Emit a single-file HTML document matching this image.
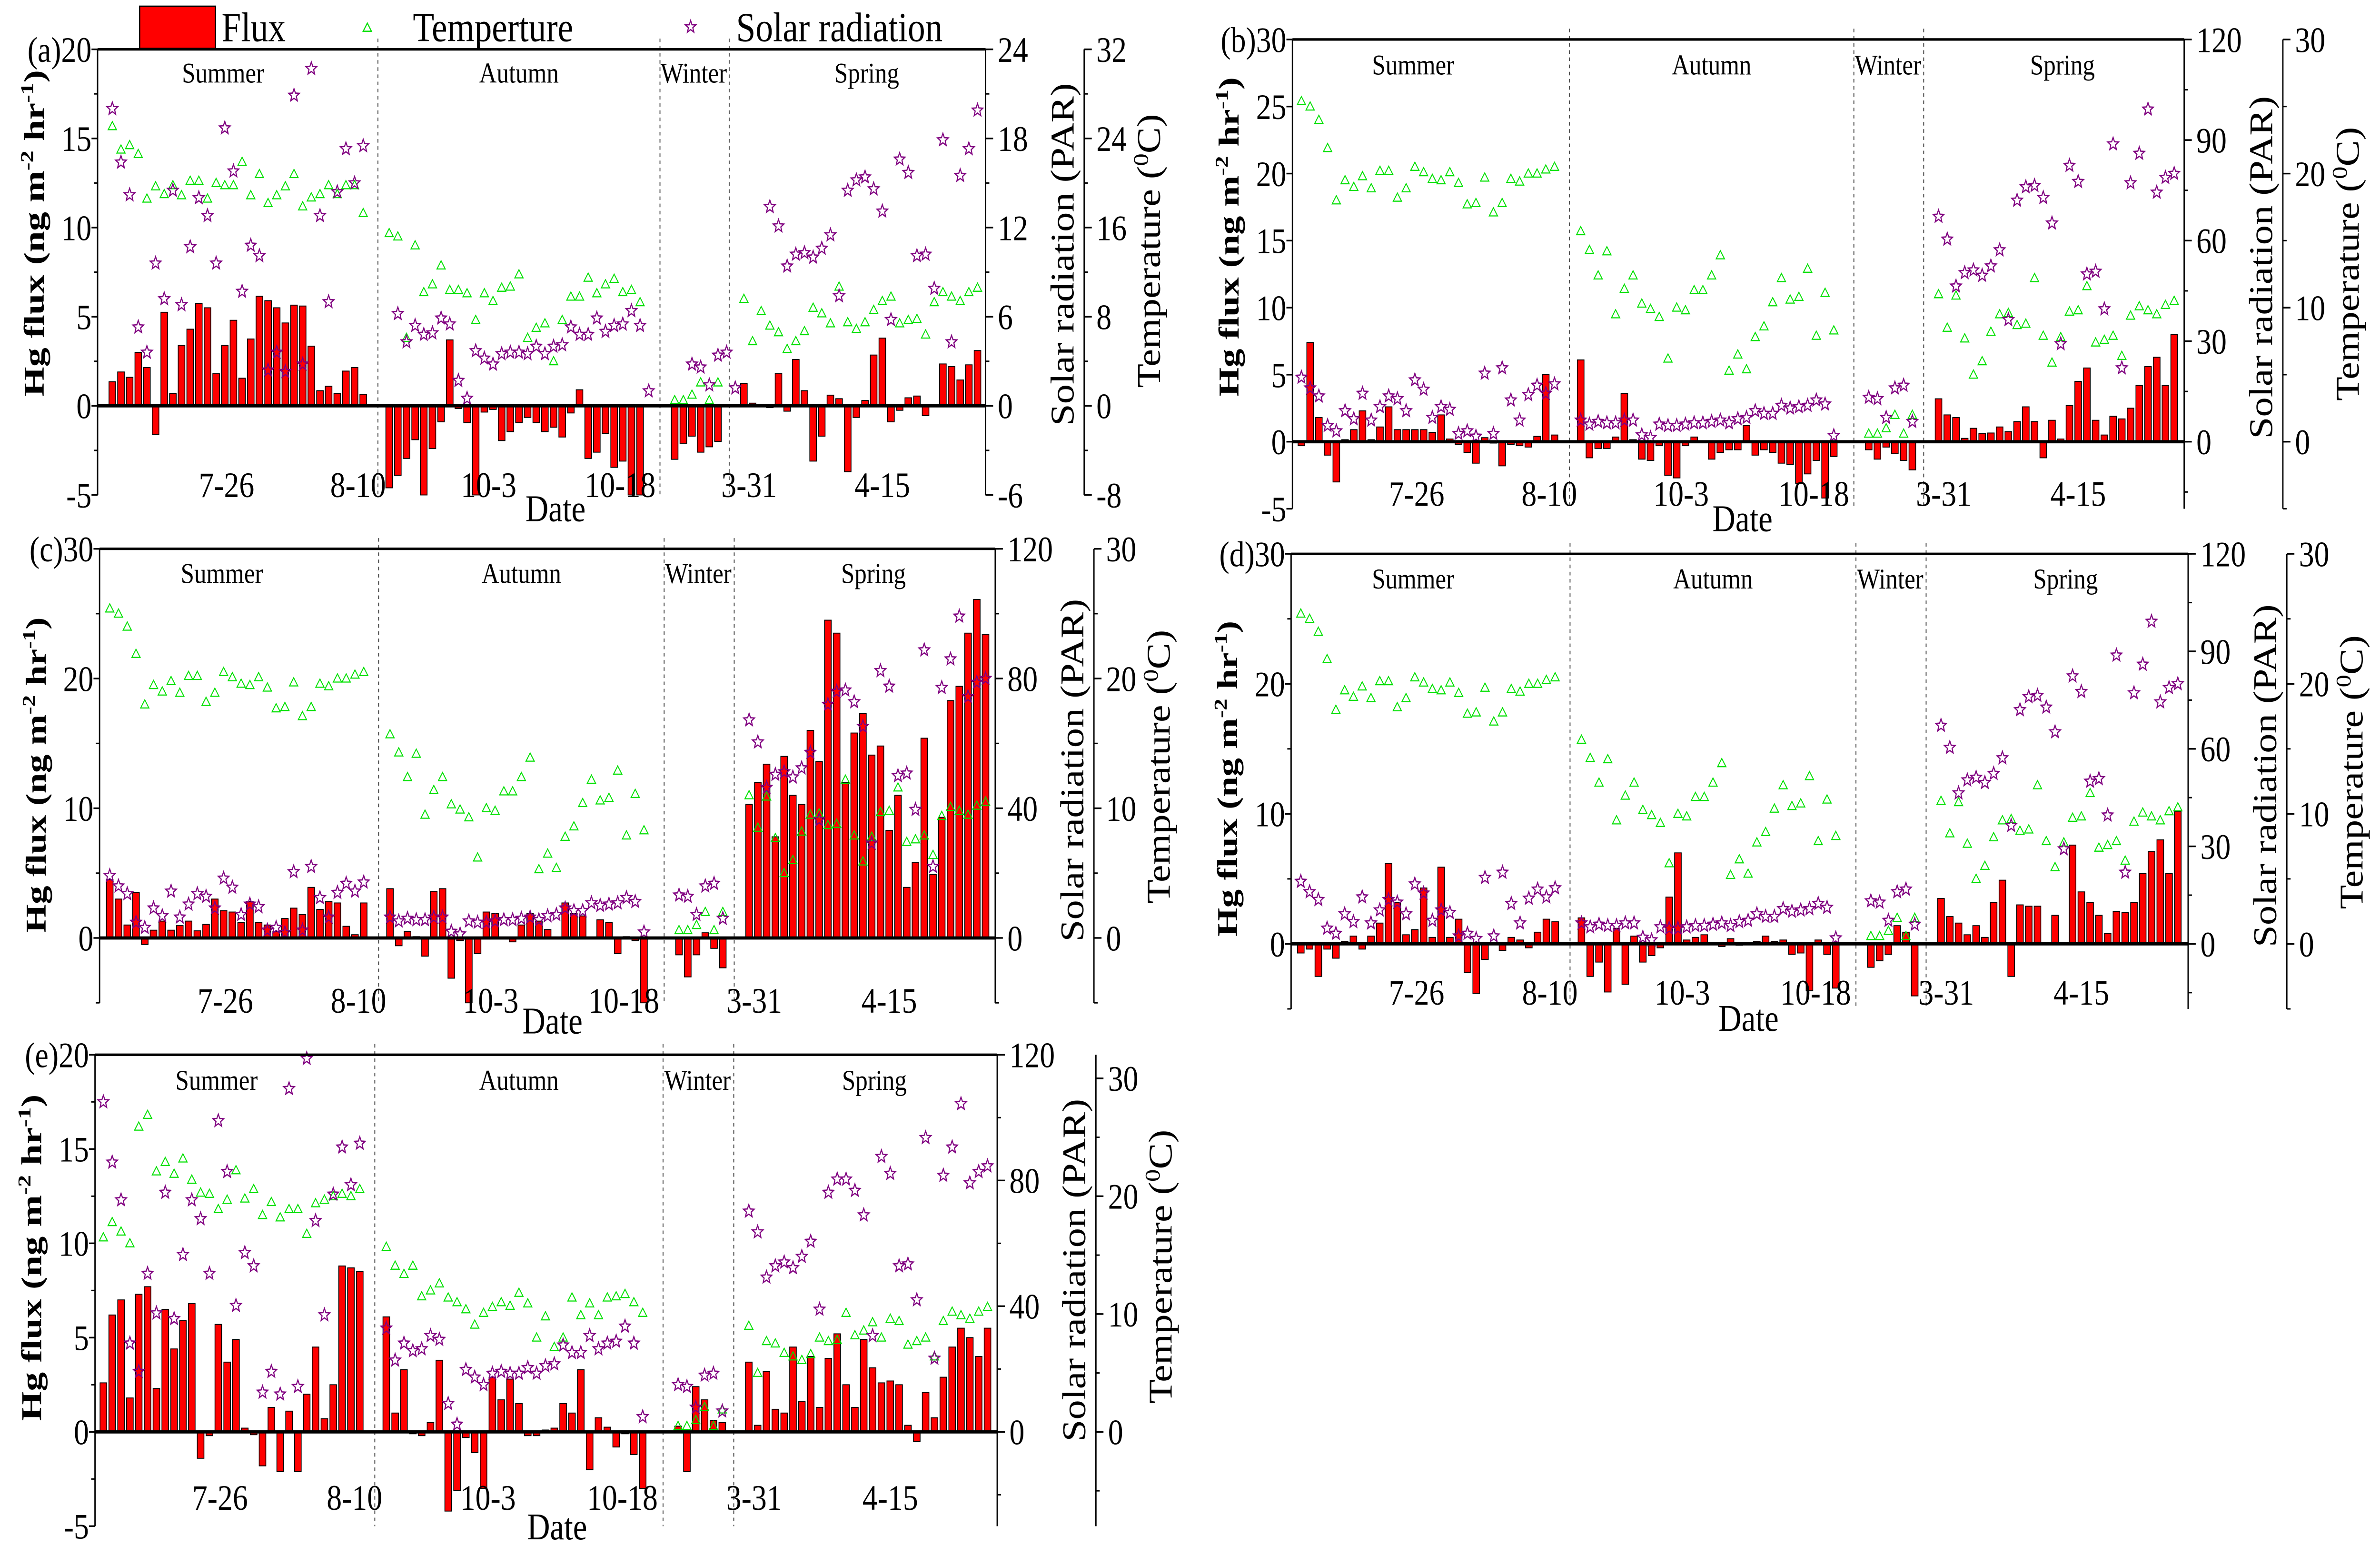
<!DOCTYPE html>
<html><head><meta charset="utf-8">
<style>
html,body{margin:0;padding:0;background:#fff;overflow:hidden;width:100vw;height:100vh;}
svg{display:block;font-family:"Liberation Serif",serif;width:100vw;height:100vh;}
</style></head>
<body>
<svg id="chart" xmlns="http://www.w3.org/2000/svg" viewBox="0 0 1568 861.7" preserveAspectRatio="none"></svg>
<script>
const N = null;
// ---- Panel (a) data (slot index = day slot) ----
const fluxA=[1.35,1.9,1.6,3.0,2.15,-1.6,5.25,0.7,3.4,4.3,5.75,5.5,1.8,3.4,4.8,1.55,3.75,6.15,5.9,5.5,4.65,5.65,5.6,3.35,0.85,1.1,0.7,1.95,2.15,0.65,
N,N,
-4.6,-3.9,-2.95,-1.9,-5.0,-2.4,-0.9,3.7,-0.15,-0.95,-5.0,-0.35,-0.2,-1.95,-1.45,-0.95,-0.65,-0.95,-1.45,-1.2,-1.75,-0.4,0.9,-2.95,-2.6,-1.55,-3.45,-3.1,-5.0,-5.0,
N,N,N,
-3.0,-2.1,-1.7,-2.6,-2.3,-2.0,
N,N,
1.25,0.15,N,-0.1,1.8,-0.3,2.6,0.85,-3.1,-1.7,0.6,0.4,-3.7,-0.65,0.3,2.85,3.8,-0.9,-0.25,0.45,0.55,-0.55,N,2.35,2.2,1.45,2.3,3.1];
const tempA=[25.1,23.0,23.4,22.6,18.6,19.7,19.0,19.8,18.9,20.2,20.2,18.6,20.0,19.8,19.8,21.9,18.9,20.8,18.2,18.9,19.7,20.8,17.9,18.7,19.0,19.8,19.0,19.8,19.8,17.3,
N,N,
15.5,15.2,6.1,14.4,10.2,10.9,12.6,10.4,10.4,10.1,7.7,10.1,9.4,10.6,10.7,11.8,6.1,7.0,7.4,4.0,7.7,9.8,9.8,11.5,10.1,10.9,11.4,10.2,10.4,9.3,
N,N,N,
0.5,0.5,1.0,2.1,0.5,2.1,
N,N,
9.6,5.8,8.5,7.2,6.6,5.1,5.8,6.7,8.8,8.3,7.4,10.7,7.5,6.9,7.5,8.6,9.4,9.8,7.4,7.7,7.8,6.4,9.3,10.2,9.8,9.4,10.2,10.6];
const parA=[20.0,16.4,14.2,5.3,3.6,9.6,7.2,14.5,6.8,10.7,14.0,12.8,9.6,18.7,15.8,7.7,10.8,10.1,2.4,3.6,2.3,20.9,2.8,22.7,12.8,7.0,14.4,17.3,15.0,17.5,
N,N,N,
6.2,4.3,5.4,4.8,4.9,5.9,5.5,1.7,0.5,3.7,3.2,2.8,3.5,3.6,3.6,3.5,4.0,3.5,4.0,4.1,5.3,4.8,4.8,5.9,5.0,5.4,5.5,6.4,5.4,1.0,
N,N,N,N,
2.8,2.6,1.4,3.4,3.6,1.2,
N,N,N,
13.4,12.1,9.4,10.2,10.3,10.0,10.6,11.5,7.4,14.5,15.2,15.4,14.6,13.1,5.8,16.6,15.7,10.1,10.2,7.9,17.9,4.3,15.5,17.3,19.9];

// ---- Panels (b),(c),(d) shared meteorology ----
const tempBCD=[25.4,25.0,24.0,21.9,18.0,19.5,19.0,19.8,18.9,20.2,20.2,18.2,18.9,20.5,20.1,19.6,19.5,20.1,19.3,17.7,17.8,19.7,17.1,17.8,19.6,19.4,20.0,20.0,20.3,20.5,
N,N,
15.7,14.3,12.4,14.2,9.5,11.4,12.4,10.3,9.9,9.3,6.2,10.0,9.8,11.3,11.3,12.4,13.9,5.3,6.5,5.4,7.8,8.6,10.4,12.2,10.6,10.8,12.9,7.9,11.1,8.3,
N,N,N,
0.6,0.6,1.0,2.0,0.6,2.0,
N,N,
11.0,8.5,10.9,7.7,5.0,6.0,8.2,9.5,9.6,8.7,8.8,12.2,7.9,5.9,7.8,9.7,9.8,11.6,7.4,7.6,7.9,6.4,9.4,10.1,9.8,9.5,10.2,10.5];
const parBCD=[19.2,16.0,13.6,4.8,3.2,9.2,6.8,14.4,6.4,10.4,13.6,12.8,9.2,18.4,15.6,7.2,10.4,9.6,2.4,3.2,1.6,20.4,2.4,22.0,12.4,6.4,14.0,16.8,14.4,17.2,
N,N,
6.4,5.2,6.0,5.6,5.6,6.4,6.4,2.0,1.2,5.2,4.8,4.8,5.2,5.6,5.6,6.0,6.4,5.6,6.8,7.2,9.2,8.4,8.4,10.8,10.0,10.4,10.8,12.4,11.2,1.8,
N,N,N,
13.2,12.8,7.2,16.0,16.8,6.0,
N,N,
67.2,60.4,46.4,50.4,51.2,49.6,52.4,57.2,36.4,72.0,76.0,76.4,72.8,65.2,29.2,82.4,77.6,50.0,50.8,39.6,88.8,22.0,77.2,86.0,99.2,74.4,78.8,80.0];

const fluxB=[-0.3,7.4,1.8,-1.0,-3.0,0.15,0.9,2.3,0.15,1.1,2.6,0.9,0.9,0.9,0.9,0.7,2.0,0.2,-0.2,-0.8,-1.6,0.3,-0.1,-1.8,-0.2,-0.3,-0.4,0.4,5.0,0.5,
N,N,
6.1,-1.2,-0.5,-0.5,0.35,3.6,0.15,-1.3,-1.4,-0.3,-2.5,-2.7,-0.3,0.35,N,-1.3,-0.8,-0.6,-0.6,1.2,-1.0,-0.6,-0.8,-1.6,-1.7,-3.1,-2.4,-1.4,-4.2,-1.1,
N,N,N,
-0.6,-1.3,-0.4,-0.9,-1.4,-2.1,
N,N,
3.2,2.0,1.8,0.25,1.0,0.6,0.65,1.1,0.75,1.5,2.6,1.5,-1.2,1.6,0.2,2.7,4.5,5.5,1.6,0.5,1.9,1.7,2.5,4.2,5.6,6.3,4.2,8.0];

const fluxC=[4.5,3.0,1.0,3.5,-0.5,0.6,1.3,0.6,0.95,1.3,0.55,1.05,3.0,2.1,2.0,1.2,2.8,1.2,1.0,0.5,1.5,2.3,1.8,3.9,2.2,2.8,2.7,0.9,0.25,2.7,
N,N,
3.8,-0.6,0.5,0.1,-1.4,3.6,3.8,-3.1,-0.2,-5.0,-1.2,2.0,1.9,0.05,-0.3,1.0,1.9,1.3,0.65,-0.05,2.7,1.9,1.7,N,1.4,1.2,-1.2,0.1,-0.2,-5.0,
N,N,N,
-1.3,-3.0,-1.3,0.4,-0.8,-2.3,
N,N,
10.3,12.0,13.4,7.8,14.0,11.0,10.3,16.0,13.6,24.5,23.5,12.0,15.8,17.3,14.1,14.8,8.3,11.0,3.9,5.8,15.4,4.9,9.3,18.3,19.4,23.5,26.1,23.4];

const fluxD=[-0.7,-0.4,-2.5,-0.4,-1.1,0.2,0.6,-0.4,0.6,1.6,6.2,3.2,0.7,1.1,4.3,0.5,5.9,0.5,1.9,-2.2,-3.8,-1.2,N,-0.5,0.5,0.3,-0.3,0.9,1.9,1.7,
N,N,
2.0,-2.5,-1.4,-3.7,1.2,-3.1,0.6,-1.4,-0.9,-0.3,3.6,7.0,0.3,0.5,0.7,N,-0.2,0.4,-0.1,0.05,0.2,0.6,0.2,0.3,-0.8,-0.7,-3.6,0.3,-0.8,-3.4,
N,N,N,
-1.8,-1.3,-0.8,1.4,0.9,-4.0,
N,N,
3.5,2.1,1.6,0.7,1.4,0.5,3.2,4.9,-2.5,3.0,2.9,2.9,-0.05,2.2,N,7.6,4.0,3.2,2.2,0.8,2.5,2.4,3.2,5.4,7.1,8.0,5.4,10.2];

// ---- Panel (e) data ----
const fluxE=[2.6,6.2,7.0,1.8,7.3,7.7,2.3,6.5,4.4,5.9,6.8,-1.4,-0.2,5.7,3.7,4.9,0.2,-0.15,-1.8,1.3,-2.1,1.1,-2.1,2.0,4.5,0.7,2.5,8.8,8.7,8.5,
N,N,
6.1,1.0,3.3,-0.1,-0.2,0.5,3.8,-4.2,-3.1,-0.3,-1.1,-3.0,2.9,1.7,2.8,1.5,-0.2,-0.2,0.1,0.2,1.5,1.0,3.3,-2.0,0.75,0.25,-0.8,-0.1,-1.2,-3.0,
N,N,N,
0.3,-2.1,2.4,1.7,0.6,0.5,
N,N,
3.7,0.35,3.2,1.2,1.0,4.5,1.6,4.0,1.3,3.9,5.2,2.5,1.3,4.9,3.4,2.6,2.7,2.5,0.35,-0.5,2.1,0.75,2.9,4.5,5.5,5.0,4.0,5.5];
const tempE=[16.5,17.8,17.0,16.0,25.9,26.9,22.1,22.9,21.9,23.2,21.4,20.3,20.2,18.9,19.7,22.2,19.8,20.6,18.4,19.5,18.2,18.9,18.9,16.8,19.4,19.7,20.0,20.2,20.0,20.6,
N,N,
15.7,14.1,13.4,14.1,11.5,12.0,12.6,11.4,11.0,10.4,9.1,10.1,10.6,11.0,10.7,11.8,10.9,8.0,9.8,7.2,8.0,11.4,9.9,10.9,9.9,11.4,11.5,11.7,11.0,10.1,
N,N,N,
0.5,0.5,1.0,2.1,0.5,1.9,
N,N,
9.0,5.0,7.7,7.5,6.7,6.4,6.1,6.6,8.0,7.7,7.8,10.1,8.2,8.6,9.3,8.0,9.6,9.4,7.4,7.7,8.0,6.4,9.4,10.2,9.9,9.6,10.2,10.6];
const parE=[105,85.8,73.8,28.2,19.2,50.4,37.8,76.2,36,56.4,73.8,67.8,50.4,99,82.8,40.2,57,52.8,12.6,19.2,12,109.2,14.4,118.8,67.2,37.2,75.6,90.6,78.6,91.8,
N,N,
33,22.8,28.2,25.8,26.4,30.6,29.4,9,2.4,19.8,17.4,15,18.6,19.2,18.6,18.6,20.4,18.6,21,21.6,27.6,25.2,25.2,30.6,26.4,28.2,28.8,33.6,28.2,4.8,
N,N,N,
15,14.4,7.8,18,18.6,6.6,
N,N,
70.2,63.6,49.2,52.8,54,52.2,55.8,60.6,39,76.2,80.4,80.4,76.8,69,30.6,87.6,82.2,52.8,53.4,42,93.6,23.4,81.6,90.6,104.4,79.2,82.8,84.6];

// ---- Axis / category labels ----
const dateLabels=['7-26','8-10','10-3','10-18','3-31','4-15'];
const dateSlots=[13.2,28.4,43.5,58.7,73.6,89];
const seasonNames=['Summer','Autumn','Winter','Spring'];
const seasonSlots=[12.8,47,67.2,87.2];
const dividerSlots=[30.7,63.3,71.3];
const ticksLeftA=[-5,0,5,10,15,20];
const ticksLeftB=[-5,0,5,10,15,20,25,30];
const ticksLeftC=[0,10,20,30];
const ticksLeftE=[-5,0,5,10,15,20];
const ticksParA=[-6,0,6,12,18,24];
const ticksParB=[0,30,60,90,120];
const ticksParC=[0,40,80,120];
const ticksTempA=[-8,0,8,16,24,32];
const ticksTempB=[0,10,20,30];

const panels=[
 {id:'a',flux:fluxA,temp:tempA,par:parA,x0:64.3,x1:649.3,top:27.5,zero:226.2,unit:9.935,fmin:-5,slot0:74,step:5.70,parK:1.2,tempK:1.6,
  left:ticksLeftA,leftMinor:2.5,parT:ticksParA,parMinor:3,tempT:ticksTempA,tempMinor:4,seasonY:46,dateY:277,dateTitle:[366,290.5],ltY:130,ltLen:182},
 {id:'b',flux:fluxB,temp:tempBCD,par:parBCD,x0:851.5,x1:1439,top:22,zero:246.2,unit:7.473,fmin:-5,slot0:857.4,step:5.75,parK:4,tempK:1,
  left:ticksLeftB,leftMinor:0,parT:ticksParB,parMinor:15,tempT:ticksTempB,tempMinor:5,seasonY:41.5,dateY:282,dateTitle:[1148,296],ltY:132,ltLen:178},
 {id:'c',flux:fluxC,temp:tempBCD,par:parBCD,x0:65.6,x1:655.7,top:305.9,zero:522.8,unit:7.23,fmin:-5,slot0:72.3,step:5.77,parK:4,tempK:1,
  left:ticksLeftC,leftMinor:5,parT:ticksParC,parMinor:20,tempT:ticksTempB,tempMinor:5,seasonY:325,dateY:564.5,dateTitle:[364,576],ltY:432,ltLen:176},
 {id:'d',flux:fluxD,temp:tempBCD,par:parBCD,x0:850.6,x1:1441.6,top:308.7,zero:526.1,unit:7.247,fmin:-5,slot0:857,step:5.778,parK:4,tempK:1,
  left:ticksLeftC,leftMinor:5,parT:ticksParB,parMinor:15,tempT:ticksTempB,tempMinor:5,seasonY:328,dateY:560,dateTitle:[1152,574.5],ltY:434,ltLen:176},
 {id:'e',flux:fluxE,temp:tempE,par:parE,x0:62.6,x1:657,top:587.9,zero:798.1,unit:10.51,fmin:-5,slot0:68.1,step:5.825,parK:6,tempK:1.6,
  left:ticksLeftE,leftMinor:2.5,parT:ticksParC,parMinor:20,tempT:ticksTempB,tempMinor:5,seasonY:607.5,dateY:841.5,dateTitle:[367,858],ltY:701,ltLen:182}
];

const NS='http://www.w3.org/2000/svg';
const svg=document.getElementById('chart');
function mk(tag,attrs,parent){
  const e=document.createElementNS(NS,tag);
  for(const k in attrs) e.setAttribute(k,attrs[k]);
  (parent||svg).appendChild(e);
  return e;
}
function starPts(cx,cy,R,r){
  let p=[];
  for(let k=0;k<10;k++){
    const a=-Math.PI/2+k*Math.PI/5; const rr=k%2?r:R;
    p.push((cx+rr*Math.cos(a)).toFixed(2)+','+(cy+rr*Math.sin(a)).toFixed(2));
  }
  return p.join(' ');
}
function triPts(cx,cy,s){
  return (cx)+','+(cy-s)+' '+(cx-s*1.05)+','+(cy+s*0.75)+' '+(cx+s*1.05)+','+(cy+s*0.75);
}

const lg=mk('g',{});


const lr=mk('rect',{x:92,y:3.5,width:50,height:23.5,fill:'#ff0000',stroke:'#000','stroke-width':0.8},lg);


const lt1=mk('text',{x:146,y:23,'font-size':23},lg); lt1.textContent='Flux';


const lm2=mk('polygon',{points:triPts(242,15.5,2.6),fill:'none',stroke:'#00e000','stroke-width':0.7},lg);


const lt2=mk('text',{x:272,y:23,'font-size':23},lg); lt2.textContent='Temperture';


const lm3=mk('polygon',{points:starPts(455,15,3.6,1.5),fill:'none',stroke:'#800080','stroke-width':0.7},lg);


const lt3=mk('text',{x:485,y:23,'font-size':23},lg); lt3.textContent='Solar radiation';



panels.forEach(P=>{
  const g=mk('g',{});
  
  
  const fmax=(P.zero-P.top)/P.unit;
  const bottom=P.zero-P.fmin*P.unit;
  const y=v=>P.zero-v*P.unit;
  const xs=i=>P.slot0+i*P.step;
  const yPar=v=>P.zero-(v/P.parK)*P.unit;
  const yTemp=v=>P.zero-(v/P.tempK)*P.unit;
  const tAx=P.x1+65;

  dividerSlots.forEach((s,k)=>{
    const d=mk('line',{x1:xs(s),x2:xs(s),y1:P.top-6,y2:bottom,stroke:'#444','stroke-width':0.6,'stroke-dasharray':'2,2'},g);
    
    
  });
  seasonNames.forEach((n,k)=>{
    const t=mk('text',{x:xs(seasonSlots[k]),y:P.seasonY,'font-size':16,'text-anchor':'middle'},g);
    t.textContent=n;
    
    
  });
  P.flux.forEach((v,i)=>{
    if(v===null) return;
    const y0=y(Math.max(v,0)), h=Math.abs(v)*P.unit;
    const b=mk('rect',{x:xs(i)-2.2,y:y0,width:4.4,height:Math.max(h,0.3),fill:'#ff0000',stroke:'#000','stroke-width':0.5},g);
    
    
  });
  P.temp.forEach((v,i)=>{
    if(v===null) return;
    const m=mk('polygon',{points:triPts(xs(i),yTemp(v),2.6),fill:'none',stroke:'#00e000','stroke-width':0.6},g);
    
    
  });
  P.par.forEach((v,i)=>{
    if(v===null) return;
    const m=mk('polygon',{points:starPts(xs(i),yPar(v),3.7,1.6),fill:'none',stroke:'#800080','stroke-width':0.7},g);
    
    
  });
  const zl=mk('line',{x1:P.x0,x2:P.x1,y1:P.zero,y2:P.zero,stroke:'#000','stroke-width':1.8},g);
  
  
  const tl=mk('line',{x1:P.x0,x2:P.x1,y1:P.top,y2:P.top,stroke:'#000','stroke-width':1.4},g);
  
  
  const la=mk('line',{x1:P.x0,x2:P.x0,y1:P.top,y2:bottom,stroke:'#000','stroke-width':0.9},g);
  
  
  const ra=mk('line',{x1:P.x1,x2:P.x1,y1:P.top,y2:bottom,stroke:'#000','stroke-width':0.9},g);
  
  
  const ta=mk('line',{x1:tAx,x2:tAx,y1:P.top,y2:bottom,stroke:'#000','stroke-width':0.9},g);
  
  

  P.left.forEach(v=>{
    const tk=mk('line',{x1:P.x0-4,x2:P.x0,y1:y(v),y2:y(v),stroke:'#000','stroke-width':0.9},g);
    
    
    const t=mk('text',{x:P.x0-4,y:y(v)+7,'font-size':20,'text-anchor':'end'},g);
    t.textContent=String(v);
    
    
  });
  if(P.leftMinor){
    for(let v=P.fmin; v<=fmax+0.01; v+=P.leftMinor){
      const mt=mk('line',{x1:P.x0-2.5,x2:P.x0,y1:y(v),y2:y(v),stroke:'#000','stroke-width':0.8},g);
      
      
    }
  }
  const topLab=String(P.left[P.left.length-1]);
  const pl=mk('text',{x:P.x0-4-topLab.length*10,y:P.top+7,'font-size':20,'text-anchor':'end'},g);
  pl.textContent='('+P.id+')';
  
  

  const parMin=P.fmin*P.parK, parMax=fmax*P.parK;
  for(let v=Math.ceil(parMin/P.parMinor)*P.parMinor; v<=parMax+0.01; v+=P.parMinor){
    const mt=mk('line',{x1:P.x1,x2:P.x1+2.5,y1:yPar(v),y2:yPar(v),stroke:'#000','stroke-width':0.8},g);
    
    
  }
  P.parT.forEach(v=>{
    const tk=mk('line',{x1:P.x1,x2:P.x1+5,y1:yPar(v),y2:yPar(v),stroke:'#000','stroke-width':0.9},g);
    
    
    const t=mk('text',{x:P.x1+8,y:yPar(v)+7,'font-size':20},g);
    t.textContent=String(v);
    
    
  });
  const tMin=P.fmin*P.tempK, tMax=fmax*P.tempK;
  for(let v=Math.ceil(tMin/P.tempMinor)*P.tempMinor; v<=tMax+0.01; v+=P.tempMinor){
    const mt=mk('line',{x1:tAx,x2:tAx+2.5,y1:yTemp(v),y2:yTemp(v),stroke:'#000','stroke-width':0.8},g);
    
    
  }
  P.tempT.forEach(v=>{
    const tk=mk('line',{x1:tAx,x2:tAx+5,y1:yTemp(v),y2:yTemp(v),stroke:'#000','stroke-width':0.9},g);
    
    
    const t=mk('text',{x:tAx+8,y:yTemp(v)+7,'font-size':20},g);
    t.textContent=String(v);
    
    
  });

  dateLabels.forEach((d,k)=>{
    const t=mk('text',{x:xs(dateSlots[k]),y:P.dateY,'font-size':20,'text-anchor':'middle'},g);
    t.textContent=d;
    
    
  });
  const dt=mk('text',{x:P.dateTitle[0],y:P.dateTitle[1],'font-size':21,'text-anchor':'middle'},g);
  dt.textContent='Date';
  
  

  const lx=P.x0-42+6.5;
  const lt=mk('text',{x:0,y:0,'font-size':19,'font-weight':'bold','text-anchor':'middle',transform:'translate('+lx+','+P.ltY+') rotate(-90)',textLength:P.ltLen,lengthAdjust:'spacingAndGlyphs'},g);
  
  
  lt.innerHTML='Hg flux (ng m<tspan dy="-7" font-size="12">-2</tspan><tspan dy="7"> hr</tspan><tspan dy="-7" font-size="12">-1</tspan><tspan dy="7">)</tspan>';
  const mid=(P.top+P.zero)/2+15;
  const pt=mk('text',{x:0,y:0,'font-size':22,'text-anchor':'middle',transform:'translate('+(P.x1+58)+','+mid+') rotate(-90)'},g);
  pt.textContent='Solar radiation (PAR)';
  
  
  const tt=mk('text',{x:0,y:0,'font-size':22,'text-anchor':'middle',transform:'translate('+(P.x1+115)+','+(mid-2)+') rotate(-90)'},g);
  
  
  tt.innerHTML='Temperature (<tspan dy="-8" font-size="14">0</tspan><tspan dy="8">C)</tspan>';
});
</script>
</body></html>
